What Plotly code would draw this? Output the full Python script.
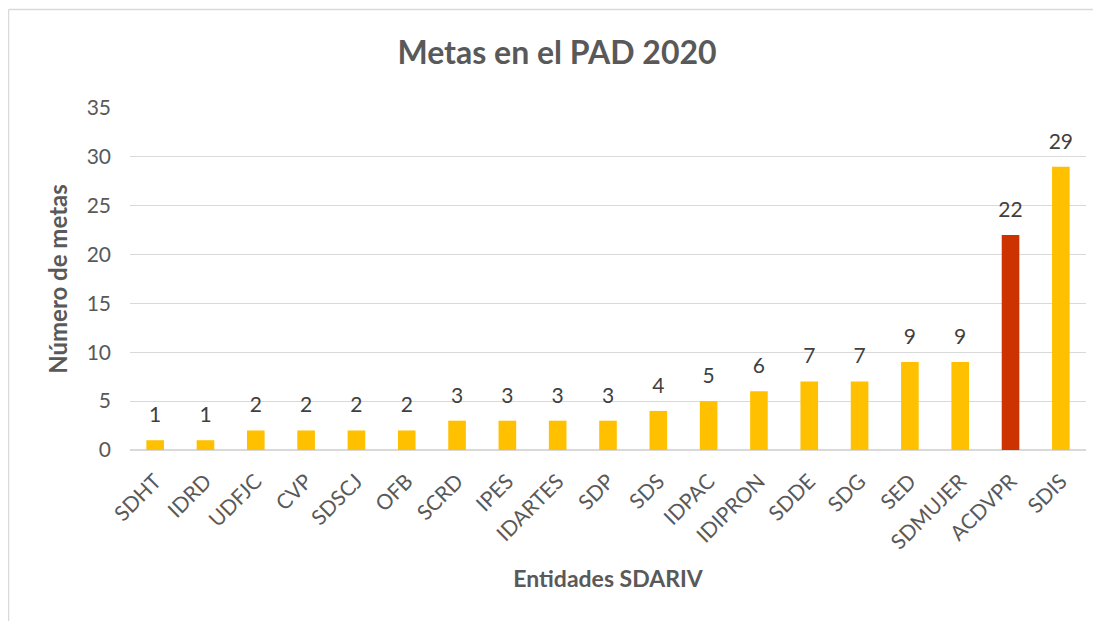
import plotly.graph_objects as go

categories = ["SDHT", "IDRD", "UDFJC", "CVP", "SDSCJ", "OFB", "SCRD", "IPES", "IDARTES",
              "SDP", "SDS", "IDPAC", "IDIPRON", "SDDE", "SDG", "SED", "SDMUJER", "ACDVPR", "SDIS"]
values = [1, 1, 2, 2, 2, 2, 3, 3, 3, 3, 4, 5, 6, 7, 7, 9, 9, 22, 29]
highlight = "ACDVPR"
y_ticks = [0, 5, 10, 15, 20, 25, 30, 35]

colors = ["#CC3300" if c == highlight else "#FFC000" for c in categories]

FONT = "Lato, 'Open Sans', sans-serif"
# page body has an 8px margin, so the figure is drawn 8px in from the window edge
OFF = 8
W, H = 1101 - OFF, 621 - OFF
L, R, T, B = 130 - OFF, 15, 108 - OFF, 171
pw, ph = W - L - R, H - T - B


def px_x(x):
    return (x - OFF - L) / pw


def px_y(y):
    return (H - B - (y - OFF)) / ph


fig = go.Figure()
fig.add_trace(go.Bar(
    x=categories, y=values, marker=dict(color=colors, line=dict(width=0)),
    hoverinfo="x+y",
))
fig.add_trace(go.Scatter(
    x=categories, y=values, mode="markers+text",
    marker=dict(size=19, color="rgba(0,0,0,0)"),
    text=[str(v) for v in values], textposition="top center",
    textfont=dict(family=FONT, size=21, color="#404040"),
    cliponaxis=False, hoverinfo="skip",
))

fig.update_layout(
    width=W, height=H,
    margin=dict(l=L, r=R, t=T, b=B),
    paper_bgcolor="white", plot_bgcolor="white",
    bargap=0.65,
    showlegend=False,
    title=dict(text="<b>Metas en el PAD 2020</b>", x=(557 - OFF) / W, xanchor="center",
               y=1 - (53 - OFF) / H, yanchor="middle",
               font=dict(family=FONT, size=32, color="#595959")),
    xaxis=dict(
        range=[-0.5, len(categories) - 0.5],
        tickangle=-45, tickfont=dict(family=FONT, size=21, color="#595959"),
        showgrid=False, showline=False, ticks="", zeroline=False,
        ticklabelstandoff=14,
        title=dict(text="<b>Entidades SDARIV</b>", standoff=18,
                   font=dict(family=FONT, size=23, color="#595959")),
    ),
    yaxis=dict(
        range=[0, 35], tickvals=y_ticks, showgrid=True, gridcolor="#D9D9D9", gridwidth=1.3,
        zeroline=True, zerolinecolor="#D9D9D9", zerolinewidth=1.5,
        tickfont=dict(family=FONT, size=21, color="#595959"),
        ticks="", ticklen=0, ticklabelstandoff=18,
        title=dict(text="<b>Número de metas</b>", standoff=12,
                   font=dict(family=FONT, size=24, color="#595959")),
    ),
    shapes=[
        dict(type="line", xref="paper", yref="paper", x0=px_x(8.5), x1=px_x(1120), y0=px_y(9.5), y1=px_y(9.5),
             line=dict(color="#D9D9D9", width=1.5)),
        dict(type="line", xref="paper", yref="paper", x0=px_x(8.5), x1=px_x(8.5), y0=px_y(9.5), y1=px_y(640),
             line=dict(color="#D9D9D9", width=1.5)),
    ],
)

fig.write_html("out.html")
